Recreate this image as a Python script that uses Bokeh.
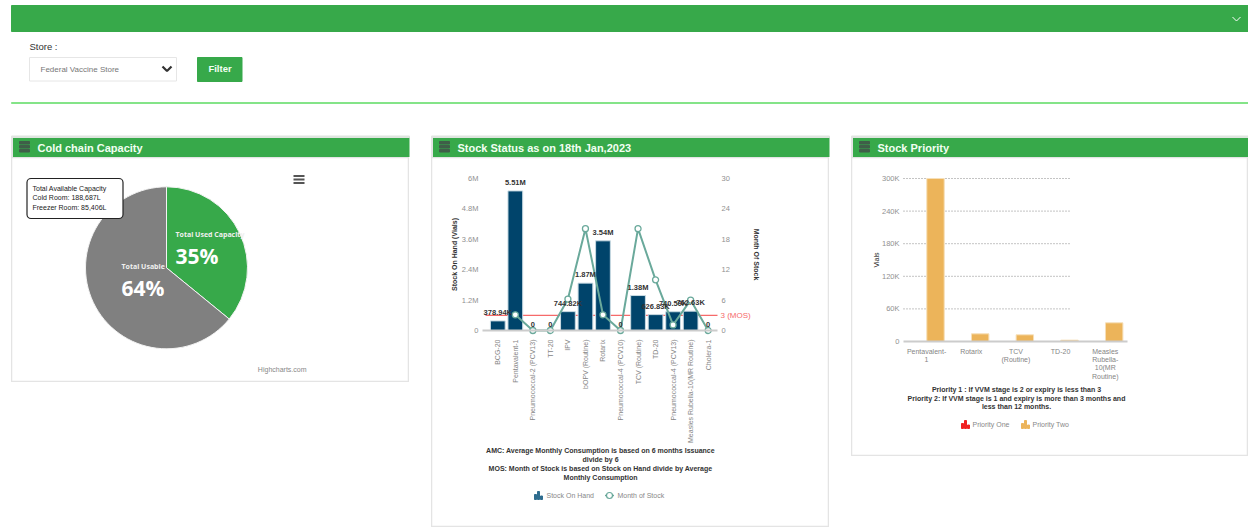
import math
from bokeh.plotting import figure
from bokeh.layouts import column, row
from bokeh.models import Range1d, LinearAxis, FixedTicker, BoxAnnotation, ColumnDataSource
from bokeh.core.properties import value
from bokeh.embed import file_html
from bokeh.resources import INLINE

# ---- data ----
store_label = "Store :"
store_name = "Federal Vaccine Store"
filter_label = "Filter"
panel_titles = ["Cold chain Capacity", "Stock Status as on 18th Jan,2023", "Stock Priority"]

pie_names = ["Total Used Capacity", "Total Usable"]
pie_values = [35.9, 64.1]
pie_labels = ["35%", "64%"]
pie_colors = ["#37a94a", "#808080"]
tooltip_lines = ["Total Available Capacity", "Cold Room: 188,687L", "Freezer Room: 85,406L"]

stock_categories = ["BCG-20", "Pentavalent-1", "Pneumococcal-2 (PCV13)", "TT-20", "IPV", "bOPV (Routine)", "Rotarix",
                    "Pneumococcal-4 (PCV10)", "TCV (Routine)", "TD-20", "Pneumococcal-4 (PCV13)",
                    "Measles Rubella-10(MR Routine)", "Cholera-1"]
stock_on_hand = [378940, 5510000, 0, 0, 744820, 1870000, 3540000, 0, 1380000, 626830, 740590, 762630, 0]
stock_labels = ["378.94K", "5.51M", "0", "0", "744.82K", "1.87M", "3.54M", "0", "1.38M", "626.83K", "740.59K", "762.63K", "0"]
month_of_stock = [float("nan"), 3.1, 0, 0, 6.2, 20.1, 3.1, 0, 20.1, 10, 1.1, 6, 0]
mos_threshold = 3
stock_yticks = [0, 1200000, 2400000, 3600000, 4800000, 6000000]
stock_yticklabels = ["0", "1.2M", "2.4M", "3.6M", "4.8M", "6M"]
mos_ticks = [0, 6, 12, 18, 24, 30]
stock_notes = ["AMC: Average Monthly Consumption is based on 6 months Issuance", "divide by 6",
               "MOS: Month of Stock is based on Stock on Hand divide by Average", "Monthly Consumption"]

priority_categories = ["Pentavalent-\n1", "Rotarix", "TCV\n(Routine)", "TD-20", "Measles\nRubella-\n10(MR\nRoutine)"]
priority_two = [300000, 14100, 12300, 2500, 34400]
priority_ticks = [0, 60000, 120000, 180000, 240000, 300000]
priority_ticklabels = ["0", "60K", "120K", "180K", "240K", "300K"]
priority_notes = ["Priority 1 : If VVM stage is 2 or expiry is less than 3",
                  "Priority 2: If VVM stage is 1 and expiry is more than 3 months and", "less than 12 months."]

GREEN = "#37a94a"
SANS = "Liberation Sans"
BORDER = "#e4e4e4"


def bare(p):
    p.outline_line_color = None
    p.grid.visible = False
    p.border_fill_color = None
    p.frame_align = False
    return p


def style_axis(a, size, color, standoff):
    a.axis_line_color = None
    a.major_tick_line_color = None
    a.minor_tick_line_color = None
    a.major_tick_out = 0
    a.major_label_text_font = SANS
    a.major_label_text_font_size = size
    a.major_label_text_color = color
    a.major_label_standoff = standoff


def note(p, x, y, text, size="7px", color="#333333", style="bold", align="center"):
    p.text(x=[x], y=[y], text=[text], text_font=value(SANS), text_font_size=size, text_color=color,
           text_font_style=style, text_align=align, text_baseline="middle")


# ---- page chrome (page pixel coordinates) ----
top = bare(figure(width=1248, height=157, x_range=Range1d(0, 1248), y_range=Range1d(157, 0),
                  x_axis_type=None, y_axis_type=None, min_border=0, toolbar_location=None, output_backend="svg"))
top.quad(left=[11], right=[1248], top=[5], bottom=[31], color=GREEN)
top.quad(left=[11], right=[1248], top=[102], bottom=[103], color="#84e488")
top.quad(left=[29], right=[176], top=[57], bottom=[80.5], fill_color="white", line_color="#e6e6e6", line_width=1)
top.quad(left=[197], right=[241.5], top=[57], bottom=[81], color=GREEN)
top.multi_line(xs=[[1232, 1236, 1240], [162, 166.5, 171]], ys=[[16.5, 20.5, 16.5], [66, 70.5, 66]],
               line_color=["white", "#333333"], line_width=[1, 2.2])
note(top, 29, 46, store_label, "9.5px", "#333333", "normal", "left")
note(top, 40, 69, store_name, "8px", "#777777", "normal", "left")
note(top, 219.5, 68, filter_label, "9.5px", "#f4fff4", "bold", "center")
for left, right, title in zip([11, 431, 851], [409, 829, 1248], panel_titles):
    top.quad(left=[left], right=[right], top=[136], bottom=[157], fill_color=GREEN, line_color=None)
    top.quad(left=[left], right=[right], top=[135.5], bottom=[137], color="#dfe5df")
    top.quad(left=[left], right=[left + 1], top=[136], bottom=[157], color=BORDER)
    ix = left + 8
    top.quad(left=[ix, ix, ix], right=[ix + 10] * 3, top=[141, 145, 149], bottom=[143.5, 147.5, 151.5], color="#3f5f48")
    note(top, left + 26, 147.3, title, "11px", "#f2fff2", "bold", "left")

# ---- pie panel ----
pie = bare(figure(width=398, height=225, x_range=Range1d(11, 409), y_range=Range1d(-382, -157), x_axis_type=None,
                  y_axis_type=None, min_border=0, toolbar_location=None, output_backend="svg", margin=(0, 0, 0, 11),
                  align="start"))
pie.outline_line_color = BORDER
pie.outline_line_width = 1.5
total = sum(pie_values)
a = math.pi / 2
starts, ends = [], []
for v in pie_values:
    starts.append(a)
    a -= 2 * math.pi * v / total
    ends.append(a)
pie.wedge(x=[166] * 2, y=[-267.3] * 2, radius=81, start_angle=starts, end_angle=ends, direction="clock",
          fill_color=pie_colors, line_color="#f2f2f2", line_width=1)
pie.text(x=[175, 121], y=[-234, -265.7], text=pie_names, text_font=value("Open Sans"), text_font_size="7px",
         text_font_style="bold", text_color="#f0f0f0", text_baseline="middle")
pie.text(x=[175, 121], y=[-255, -287], text=pie_labels, text_font=value("Open Sans"), text_font_size="21px",
         text_font_style="bold", text_color="white", text_baseline="middle")
pie.add_layout(BoxAnnotation(left=26.5, right=122.5, top=-178, bottom=-218, fill_color="white", fill_alpha=1,
                             line_color="#222222", line_alpha=1, line_width=1.2, border_radius=4))
pie.text(x=[32] * 3, y=[-188, -197, -207], text=tooltip_lines, text_font=value(SANS), text_font_size="7px",
         text_color="#222222", text_baseline="middle", level="overlay")
pie.segment(x0=[293] * 3, x1=[304] * 3, y0=[-175.5, -179, -182.5], y1=[-175.5, -179, -182.5], line_color="#555555", line_width=2)
pie.text(x=[306], y=[-369], text=["Highcharts.com"], text_font=value(SANS), text_font_size="7px", text_color="#888888",
         text_align="right", text_baseline="middle")

# ---- stock status panel: the frame fills the panel, the axes sit inside it ----
s_step = 17.53


def sx(px):
    return (px - 497.3) / s_step


def sy(py):
    return (330 - py) * 6000000 / 152


def smos(py):
    return (330 - py) * 30 / 152


s = bare(figure(width=398, height=370, x_range=Range1d(sx(431), sx(829)), y_range=Range1d(sy(527), sy(157)),
                min_border=0, toolbar_location=None, output_backend="svg", margin=(0, 0, 0, 22), align="start"))
s.outline_line_color = BORDER
s.outline_line_width = 1.5
s.extra_y_ranges = {"mos": Range1d(smos(527), smos(157))}
xs = list(range(len(stock_categories)))
s.segment(x0=[sx(485)], x1=[sx(717)], y0=[mos_threshold], y1=[mos_threshold],
          y_range_name="mos", line_color="#f66a6a", line_width=1.3)
s.vbar(x=xs, top=stock_on_hand, width=0.84, fill_color="#00446b", line_color="#c9dbe3", line_width=1)
src = ColumnDataSource(dict(x=xs, y=month_of_stock))
s.line("x", "y", source=src, y_range_name="mos", line_color="#6aa99b", line_width=2)
s.scatter("x", "y", source=src, y_range_name="mos", size=6, fill_color="white", line_color="#6aa99b", line_width=1.3)
s.text(x=xs, y=stock_on_hand, text=stock_labels, text_font=value(SANS), text_font_size="7.5px", text_font_style="bold",
       text_color="#333333", text_align="center", text_baseline="bottom", y_offset=-4)
ax = s.yaxis[0]
ax.ticker = FixedTicker(ticks=stock_yticks)
ax.major_label_overrides = dict(zip(stock_yticks, stock_yticklabels))
ax.axis_label = "Stock On Hand (Vials)"
ax.bounds = (0, 6000000)
ax.fixed_location = sx(482)
right_ax = LinearAxis(y_range_name="mos", ticker=FixedTicker(ticks=mos_ticks), axis_label="Month Of Stock",
                      bounds=(0, 30), fixed_location=sx(717))
s.add_layout(right_ax, "right")
for yaxis in (ax, right_ax):
    style_axis(yaxis, "7.5px", "#909090", 4)
    yaxis.axis_label_text_font = SANS
    yaxis.axis_label_text_font_size = "7px"
    yaxis.axis_label_text_font_style = "bold"
    yaxis.axis_label_text_color = "#333333"
ax.axis_label_standoff = 1
right_ax.axis_label_standoff = 20
xa = s.xaxis[0]
xa.ticker = FixedTicker(ticks=xs)
xa.major_label_overrides = dict(zip(xs, stock_categories))
xa.major_label_orientation = math.pi / 2
style_axis(xa, "7px", "#858585", 9)
xa.axis_line_color = "#cccccc"
xa.axis_line_width = 2
xa.bounds = (sx(482), sx(717))
xa.fixed_location = 0
note(s, sx(720), sy(315), "3 (MOS)", "8px", "#f66a6a", "normal", "left")
for py, line in zip([450, 458.5, 468, 477], stock_notes):
    note(s, sx(600), sy(py), line)
s.quad(left=[sx(534), sx(537), sx(540)], right=[sx(536), sx(539), sx(542)], top=[sy(494), sy(491), sy(495.5)],
       bottom=[sy(499)] * 3, color="#2f6d8f")
note(s, sx(546), sy(495), "Stock On Hand", "7px", "#888888", "normal", "left")
s.segment(x0=[sx(604.5)], x1=[sx(613.5)], y0=[sy(495)], y1=[sy(495)], line_color="#6aa99b", line_width=1.5)
s.scatter(x=[sx(609)], y=[sy(495)], size=6, fill_color="white", line_color="#6aa99b", line_width=1.2)
note(s, sx(617), sy(495), "Month of Stock", "7px", "#888888", "normal", "left")

# ---- stock priority panel ----
p_step = 44.67


def qx(px):
    return (px - 935) / p_step


def qy(py):
    return (341 - py) * 300000 / 163


p = bare(figure(width=397, height=299, x_range=Range1d(qx(851), qx(1248)), y_range=Range1d(qy(456), qy(157)),
                min_border=0, toolbar_location=None, output_backend="svg", margin=(0, 0, 0, 22), align="start"))
p.outline_line_color = BORDER
p.outline_line_width = 1.5
pxs = list(range(len(priority_categories)))
p.segment(x0=[qx(903)] * 5, x1=[qx(1070)] * 5, y0=priority_ticks[1:], y1=priority_ticks[1:],
          line_color="#888888", line_width=1, line_dash="1 2")
p.vbar(x=pxs, top=priority_two, width=0.39, fill_color="#ecb45a", line_color="#f6dfb8", line_width=1)
pa = p.yaxis[0]
pa.ticker = FixedTicker(ticks=priority_ticks)
pa.major_label_overrides = dict(zip(priority_ticks, priority_ticklabels))
pa.axis_label = "Vials"
pa.bounds = (0, 300000)
pa.fixed_location = qx(903)
style_axis(pa, "7.5px", "#909090", 4)
pa.axis_label_standoff = -1
pa.axis_label_text_font = SANS
pa.axis_label_text_font_size = "7px"
pa.axis_label_text_font_style = "normal"
pa.axis_label_text_color = "#222222"
pb = p.xaxis[0]
tick_shift = 0.2
ptick = [i - tick_shift for i in pxs]
pb.ticker = FixedTicker(ticks=ptick)
pb.major_label_overrides = dict(zip(ptick, priority_categories))
style_axis(pb, "7px", "#858585", 6)
pb.axis_line_color = "#cccccc"
pb.axis_line_width = 2
pb.bounds = (qx(903), qx(1127))
pb.fixed_location = 0
for py, line in zip([388.5, 397.5, 406.3], priority_notes):
    note(p, qx(1016), qy(py), line)
for x0, color in ((961, "#f02020"), (1021, "#ecb45a")):
    p.quad(left=[qx(x0), qx(x0 + 3), qx(x0 + 6)], right=[qx(x0 + 2), qx(x0 + 5), qx(x0 + 8)],
           top=[qy(423), qy(420), qy(424.5)], bottom=[qy(428)] * 3, color=color)
note(p, qx(972), qy(424), "Priority One", "7px", "#888888", "normal", "left")
note(p, qx(1032), qy(424), "Priority Two", "7px", "#888888", "normal", "left")

page = column(top, row(pie, s, p, spacing=0), spacing=0)
open("out.html", "w").write(file_html(page, INLINE))
